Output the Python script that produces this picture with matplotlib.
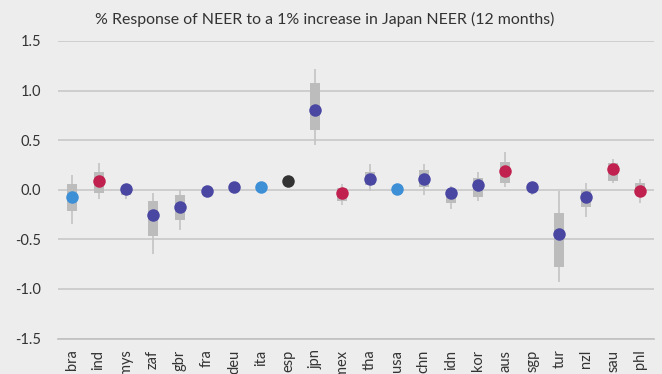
import matplotlib
matplotlib.use("Agg")
import matplotlib.pyplot as plt

plt.rcParams['font.family'] = ['Lato', 'DejaVu Sans']

countries = ["bra", "ind", "mys", "zaf", "gbr", "fra", "deu", "ita", "esp", "jpn", "mex",
             "tha", "usa", "chn", "idn", "kor", "aus", "sgp", "tur", "nzl", "sau", "phl"]
point = [-0.07, 0.09, 0.01, -0.25, -0.17, -0.01, 0.03, 0.03, 0.09, 0.80, -0.03,
         0.11, 0.01, 0.11, -0.03, 0.05, 0.19, 0.03, -0.45, -0.07, 0.21, -0.01]
box_hi = [0.06, 0.18, 0.04, -0.11, -0.05, -0.01, 0.05, 0.05, 0.09, 1.08, 0.02,
          0.18, 0.01, 0.20, 0.00, 0.12, 0.28, 0.05, -0.23, 0.00, 0.265, 0.07]
box_lo = [-0.21, -0.03, -0.05, -0.47, -0.31, -0.01, 0.01, 0.01, 0.09, 0.60, -0.11,
          0.05, 0.01, 0.03, -0.13, -0.07, 0.07, 0.00, -0.775, -0.17, 0.085, -0.05]
wh_hi = [0.15, 0.265, 0.04, -0.03, 0.00, -0.01, 0.05, 0.05, 0.09, 1.215, 0.06,
         0.26, 0.04, 0.26, 0.04, 0.18, 0.38, 0.05, -0.01, 0.07, 0.31, 0.11]
wh_lo = [-0.345, -0.09, -0.09, -0.65, -0.41, -0.01, 0.01, 0.01, 0.09, 0.45, -0.15,
         -0.01, -0.04, -0.05, -0.19, -0.11, 0.03, -0.05, -0.93, -0.27, 0.065, -0.13]
group = ["lb", "r", "p", "p", "p", "p", "p", "lb", "k", "p", "r",
         "p", "lb", "p", "p", "p", "r", "p", "p", "p", "r", "r"]

colors = {"p": "#4a47a3", "r": "#c0214f", "lb": "#3d8fd6", "k": "#333333"}
bg = "#ededed"

fig = plt.figure(figsize=(6.62, 3.74), dpi=100, facecolor=bg)
ax = fig.add_axes([58 / 662, 1 - 338.5 / 374, 596 / 662, 297.5 / 374])
ax.set_facecolor(bg)

x = list(range(len(countries)))
ax.vlines(x, wh_lo, wh_hi, color="#c4c4c4", lw=1.2, zorder=2)
heights = [h - l for h, l in zip(box_hi, box_lo)]
ax.bar(x, heights, bottom=box_lo, width=0.37, color="#bbbcbb", zorder=3)
for i in x:
    ax.plot(i, point[i], "o", ms=9, color=colors[group[i]], mec="none", zorder=4)

ax.set_ylim(-1.5, 1.5)
ax.set_yticks([-1.5, -1.0, -0.5, 0.0, 0.5, 1.0, 1.5])
ax.set_yticklabels(["-1.5", "-1.0", "-0.5", "0.0", "0.5", "1.0", "1.5"])
ax.set_xlim(-0.5, len(countries) - 0.5)
ax.set_xticks(x)
ax.set_xticklabels(countries, rotation=90)
ax.grid(axis="y", color="#c8c8c8", lw=1.2, zorder=1)
ax.tick_params(length=0, labelsize=10.5, colors="#333333", pad=12)
ax.tick_params(axis="x", pad=8)
for s in ["top", "right", "left"]:
    ax.spines[s].set_visible(False)
ax.spines["bottom"].set_color("#c0c0c0")
ax.spines["bottom"].set_linewidth(1.2)

fig.text(325 / 662, 1 - 19 / 374,
         "% Response of NEER to a 1% increase in Japan NEER (12 months)",
         fontsize=11.4, color="#333333", ha="center", va="center")

fig.savefig("out.png", dpi=100, facecolor=bg)
